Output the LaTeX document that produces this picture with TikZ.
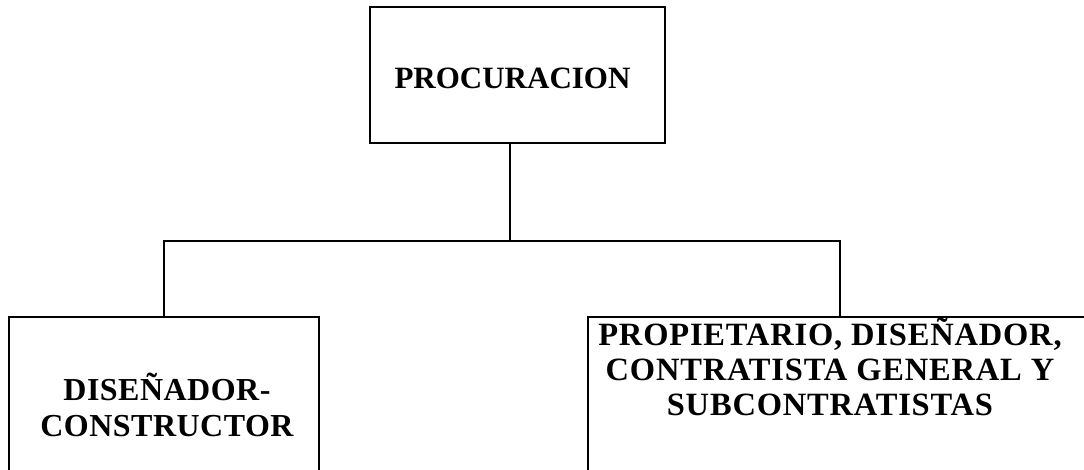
\documentclass[tikz,border=0pt]{standalone}
\usepackage{fontspec}
\setmainfont{Liberation Serif}
\begin{document}
\begin{tikzpicture}[x=1pt,y=-1pt,
  box/.style={draw=black,line width=1.6pt,rectangle,inner sep=0pt},
  lbl/.style={font=\bfseries\fontsize{31}{35}\selectfont,align=center,inner sep=0pt,text=black},
  conn/.style={draw=black,line width=1.6pt}]
\useasboundingbox (0,0) rectangle (1084,470);
\clip (0,0) rectangle (1084,470);
\fill[white] (0,0) rectangle (1084,470);
\node[box,minimum width=295pt,minimum height=136pt] (tb) at (517.5,75) {};
\node[lbl] (tt) at (512.5,78) {PROCURACION};
\node[box,minimum width=310pt,minimum height=180pt] (lb) at (164,407) {};
\node[lbl,font=\bfseries\fontsize{32}{35.5}\selectfont\addfontfeature{LetterSpace=1.5}] (lt) at (167,405) {DISEÑADOR-\\CONSTRUCTOR};
\node[box,minimum width=504pt,minimum height=180pt] (rb) at (840,407) {};
\node[lbl,font=\bfseries\fontsize{32.5}{35}\selectfont\addfontfeature{LetterSpace=2.5}] (rt) at (830,367) {PROPIETARIO, DISEÑADOR,\\CONTRATISTA GENERAL Y\\SUBCONTRATISTAS};
\coordinate (j) at (510,241);
\draw[conn] (tb.south -| j) -- (j);
\draw[conn] (lb.north) |- (j) -| (rb.north);
\end{tikzpicture}
\end{document}
